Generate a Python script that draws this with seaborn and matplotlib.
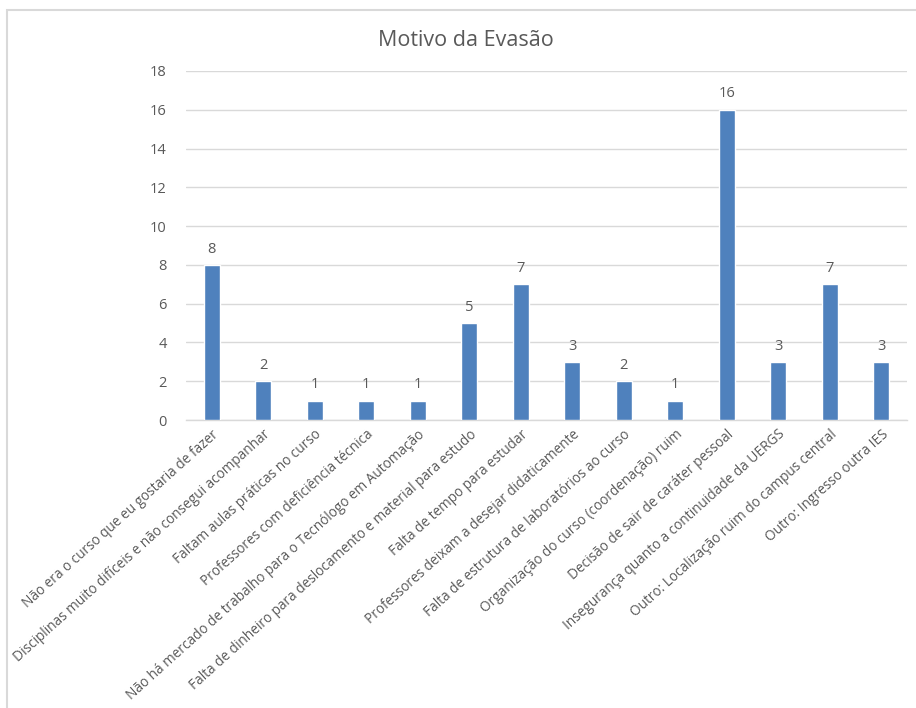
import matplotlib
matplotlib.use("Agg")
import matplotlib.pyplot as plt
import seaborn as sns
import pandas as pd
from matplotlib.patches import Rectangle

categories = [
    "Não era o curso que eu gostaria de fazer",
    "Disciplinas muito difíceis e não consegui acompanhar",
    "Faltam aulas práticas no curso",
    "Professores com deficiência técnica",
    "Não há mercado de trabalho para o Tecnólogo em Automação",
    "Falta de dinheiro para deslocamento e material para estudo",
    "Falta de tempo para estudar",
    "Professores deixam a desejar didaticamente",
    "Falta de estrutura de laboratórios ao curso",
    "Organização do curso (coordenação) ruim",
    "Decisão de sair de caráter pessoal",
    "Insegurança quanto a continuidade da UERGS",
    "Outro: Localização ruim do campus central",
    "Outro: Ingresso outra IES",
]
values = [8, 2, 1, 1, 1, 5, 7, 3, 2, 1, 16, 3, 7, 3]
yticks = [0, 2, 4, 6, 8, 10, 12, 14, 16, 18]
title = "Motivo da Evasão"

df = pd.DataFrame({"Motivo": categories, "Valor": values})

sns.set_theme(style="white")
plt.rcParams["font.family"] = ["Open Sans", "DejaVu Sans"]

text_color = "#595959"
grid_color = "#D9D9D9"
bar_color = "#4F81BD"

fig = plt.figure(figsize=(9.16, 7.08), dpi=100)
ax = fig.add_axes([186 / 916, 1 - 420 / 708, (907 - 186) / 916, (420 - 71) / 708])

sns.barplot(data=df, x="Motivo", y="Valor", color=bar_color, width=0.31,
            saturation=1, ax=ax, zorder=3)

ax.set_ylim(0, 18)
ax.set_yticks(yticks)
ax.set_xlim(-0.5, len(categories) - 0.5)
ax.yaxis.grid(True, color=grid_color, linewidth=1, zorder=0)
ax.set_axisbelow(True)
for s in ["top", "right", "left"]:
    ax.spines[s].set_visible(False)
ax.spines["bottom"].set_color(grid_color)
ax.spines["bottom"].set_linewidth(1)
ax.set_xlabel("")
ax.set_ylabel("")
ax.tick_params(axis="y", length=0, pad=14, labelsize=10.5, labelcolor=text_color)
ax.tick_params(axis="x", length=0, pad=5, labelsize=9.8, labelcolor=text_color)
ax.set_xticks(range(len(categories)))
ax.set_xticklabels(categories, rotation=42, ha="right", rotation_mode="anchor")

for i, v in enumerate(values):
    ax.annotate(str(v), (i, v), xytext=(0, 6), textcoords="offset points",
                ha="center", va="bottom", fontsize=10.5, color=text_color)

fig.text(466 / 916, 1 - 40 / 708, title, ha="center", va="center",
         fontsize=15.5, color=text_color)

fig.patches.append(Rectangle((7 / 916, -0.05), 0.2 + (915 - 7) / 916, 1.05 - 10 / 708,
                             transform=fig.transFigure, fill=False,
                             edgecolor=grid_color, linewidth=1.5))

fig.savefig("out.png", dpi=100, facecolor="white")
